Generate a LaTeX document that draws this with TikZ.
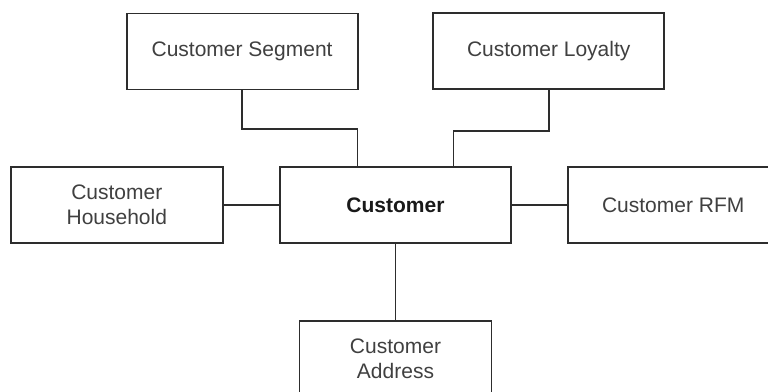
\documentclass[tikz,border=0pt]{standalone}
\usepackage{fontspec}
\setmainfont{Liberation Sans}
\usepackage{xcolor}
\usetikzlibrary{math}
\definecolor{boxgray}{RGB}{45,45,45}
\definecolor{textgray}{RGB}{64,64,64}

\tikzset{
entity/.style={draw=boxgray, line width=1.8, fill=white, inner sep=0, minimum height=\boxh, align=center, text=textgray, font=\fontsize{21}{25}\selectfont},
link/.style={line width=1.6, color=boxgray},
}

\begin{document}
\begin{tikzpicture}[x=1pt, y=-1pt]
\tikzmath{
\boxh=76;
}

\useasboundingbox (0,0) rectangle (768,391);
\clip (0,0) rectangle (768,391);

\node[entity, minimum width=231] (seg) at (242.1,51.4) {Customer Segment};
\node[entity, minimum width=231] (loy) at (548.7,51.3) {Customer Loyalty};
\node[entity, minimum width=212] (hh) at (116.8,205) {Customer\\Household};
\node[entity, minimum width=231, font=\bfseries\fontsize{21}{25}\selectfont, text=black!90] (cust) at (395.5,205) {Customer};
\node[entity, minimum width=210] (rfm) at (673.2,205) {Customer RFM};
\node[entity, minimum width=192] (addr) at (395.5,358.7) {Customer\\Address};

\draw[link] (seg.south) -- ++(0,38.5) -| ([xshift=-38.2]cust.north);
\draw[link] (loy.south) -- ++(0,40.7) -| ([xshift=57.8]cust.north);

\draw[link] (hh.east) -- (cust.west);
\draw[link] (cust.east) -- (rfm.west);
\draw[link] (cust.south) -- (addr.north);

\end{tikzpicture}
\end{document}
